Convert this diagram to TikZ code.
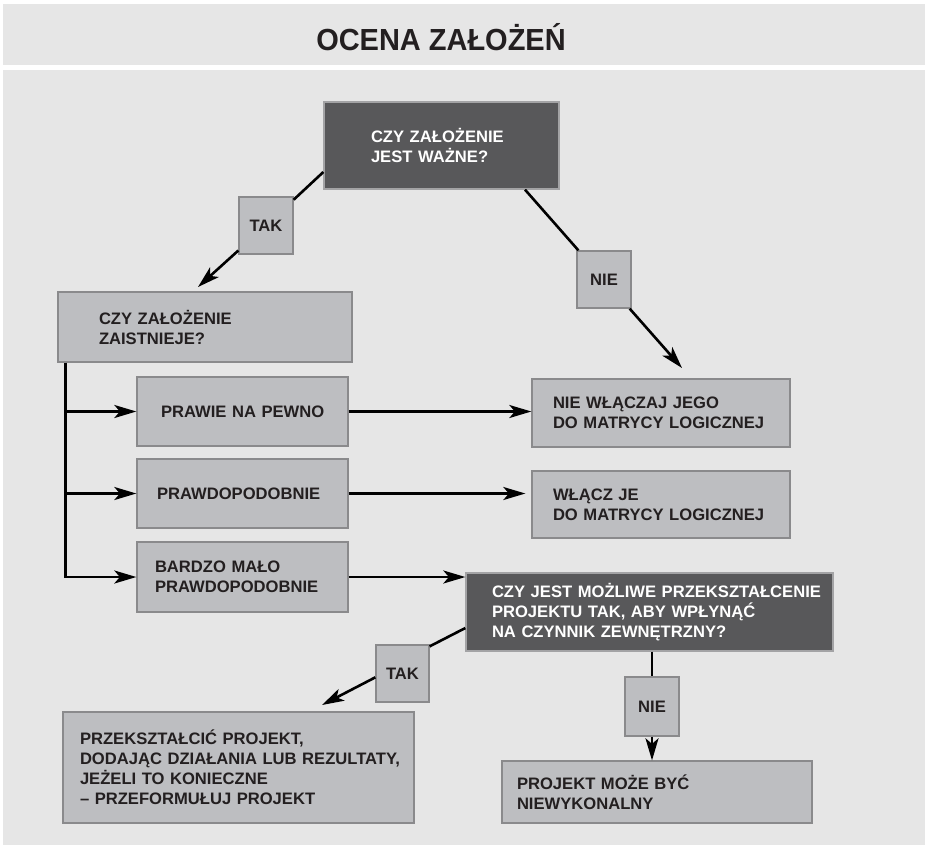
\documentclass[tikz,border=0pt]{standalone}
\usepackage{fontspec}
\usepackage{graphicx}
\setmainfont{Liberation Sans}
\usetikzlibrary{arrows.meta}
\definecolor{panel}{HTML}{E6E6E6}
\definecolor{boxfill}{HTML}{BDBEC1}
\definecolor{boxline}{HTML}{8A8A8C}
\definecolor{darkfill}{HTML}{58585A}
\definecolor{darkline}{HTML}{A3A3A5}
\definecolor{ink}{HTML}{231F20}
\begin{document}
\begin{tikzpicture}[x=1pt,y=-1pt,
  boxbase/.style n args={3}{line width=1.3pt, inner xsep=0pt, inner ysep=0pt,
    text width=#1pt, minimum height=#2pt, align=left,
    font=\fontsize{16.6}{20}\selectfont\bfseries,
    execute at begin node={\leftskip=#3pt\rightskip=-40pt plus 1fil}},
  lbox/.style n args={3}{boxbase={#1}{#2}{#3}, draw=boxline, fill=boxfill, text=ink},
  dbox/.style n args={3}{boxbase={#1}{#2}{#3}, draw=darkline, fill=darkfill, text=white},
  tagbox/.style={draw=boxline, fill=boxfill, text=ink, line width=1.3pt,
    minimum width=54pt, minimum height=57pt, inner sep=0pt,
    font=\fontsize{16.6}{20}\selectfont\bfseries},
  link/.style={line width=2.6pt, black},
  arr/.style={link, -{Stealth[length=22pt,width=13pt,inset=5.5pt]}}
]
% page, title band and main panel
\useasboundingbox (0,0) rectangle (925,847);
\fill[white] (0,0) rectangle (925,847);
\fill[panel] (3,4) rectangle (925,65);
\fill[panel] (3,70) rectangle (925,845);

\node[anchor=base, text=ink] (title) at (441,50.5)
  {\scalebox{0.95}[1]{\fontsize{30.5}{34}\selectfont\bfseries OCENA ZAŁOŻEŃ}};

% boxes
\node[dbox={235}{87}{47}] (q1) at (441.5,145.5) {CZY ZAŁOŻENIE\\JEST WAŻNE?};
\node[lbox={294}{70}{41}] (q2) at (205,327) {CZY ZAŁOŻENIE\\ZAISTNIEJE?};
\node[lbox={211}{69}{24}] (opt1) at (242.5,411.5) {PRAWIE NA PEWNO};
\node[lbox={211}{69}{20}] (opt2) at (242.5,493.5) {PRAWDOPODOBNIE};
\node[lbox={211}{70}{18}] (opt3) at (242.5,577) {BARDZO MAŁO\\PRAWDOPODOBNIE};
\node[lbox={258}{68}{21}] (r1) at (661,413) {NIE WŁĄCZAJ JEGO\\DO MATRYCY LOGICZNEJ};
\node[lbox={258}{67}{21}] (r2) at (661,504.5) {WŁĄCZ JE\\DO MATRYCY LOGICZNEJ};
\node[dbox={367}{78}{26}] (q3) at (649.5,612)
  {CZY JEST MOŻLIWE PRZEKSZTAŁCENIE\\PROJEKTU TAK, ABY WPŁYNĄĆ\\NA CZYNNIK ZEWNĘTRZNY?};
\node[lbox={351}{111}{17}] (p1) at (238.5,767.5)
  {PRZEKSZTAŁCIĆ PROJEKT,\\DODAJĄC DZIAŁANIA LUB REZULTATY,\\JEŻELI TO KONIECZNE\\– PRZEFORMUŁUJ PROJEKT};
\node[lbox={310}{62}{15}] (fin) at (657,792) {PROJEKT MOŻE BYĆ\\NIEWYKONALNY};

% answer tags
\node[tagbox] (tak1) at (266,225.5) {TAK};
\node[tagbox] (nie1) at (604,279.5) {NIE};
\node[tagbox, minimum width=53pt] (tak2) at (402.5,673.5) {TAK};
\node[tagbox, minimum height=59pt] (nie2) at (652,706.5) {NIE};

% connectors from the first question
\coordinate (a1) at ([yshift=-26.5pt]q1.west);
\coordinate (t1) at (198,287);
\draw[link] (a1) -- (tak1);
\draw[arr] (tak1) -- (t1);
\coordinate (a2) at ([xshift=83.5pt]q1.south);
\coordinate (n1) at (682,368);
\draw[link] (a2) -- (nie1);
\draw[arr] (nie1) -- (n1);

% trunk to the three likelihood options
\coordinate (trunk) at ([xshift=8pt]q2.south west);
\draw[arr] (trunk) |- (opt3.west);
\draw[arr] (trunk |- opt1.west) -- (opt1.west);
\draw[arr] (trunk |- opt2.west) -- (opt2.west);

% options to outcomes
\draw[arr] (opt1.east) -- (opt1.east -| r1.west);
\draw[arr, shorten >=6pt] (opt2.east) -- (opt2.east -| r2.west);
\draw[arr] (opt3.east) -- (opt3.east -| q3.west);

% connectors from the second question
\coordinate (a3) at ([yshift=-16pt]q3.west);
\coordinate (t2) at (322,705);
\draw[link] (a3) -- (tak2.45);
\draw[arr] (tak2.188) -- (t2);
\draw[link] (nie2 |- q3.south) -- (nie2);
\draw[arr] (nie2) -- (nie2 |- fin.north);
\end{tikzpicture}
\end{document}
